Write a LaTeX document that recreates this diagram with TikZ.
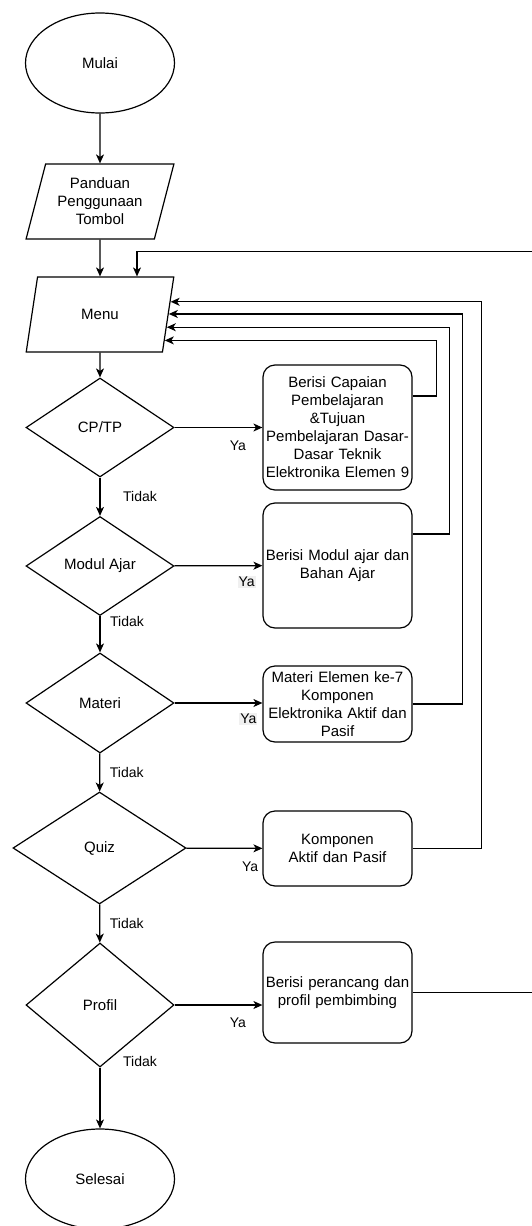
\documentclass[tikz,border=0pt]{standalone}
\usepackage{fontspec}
\setmainfont{Liberation Sans}
\usetikzlibrary{arrows.meta,positioning,shapes.geometric,calc}
\tikzset{
  terminal/.style={draw, ellipse, minimum width=149pt, minimum height=100pt, inner sep=0pt, align=center, font=\fontsize{15}{18}\selectfont},
  io/.style={draw, trapezium, trapezium left angle=72, trapezium right angle=108, trapezium stretches=true, minimum width=148pt, minimum height=75pt, inner sep=0pt, align=center, font=\fontsize{15}{18}\selectfont},
  decision/.style={draw, diamond, minimum width=148pt, minimum height=99pt, inner sep=0pt, align=center, font=\fontsize{15}{18}\selectfont},
  act/.style={draw, rounded corners=12pt, text width=145pt, inner xsep=2pt, inner ysep=0pt, align=center, font=\fontsize{15}{18}\selectfont},
  lbl/.style={font=\fontsize{14}{16}\selectfont, inner sep=1pt},
  lblbg/.style={lbl, fill=gray!12},
  arrow/.style={-{Stealth[length=9pt,width=8pt,inset=2.5pt]}, line width=1.2pt}
}
\begin{document}
\begin{tikzpicture}[x=1pt, y=-1pt, line width=1.2pt]
  \useasboundingbox (0,0) rectangle (531,1226);
  \node[terminal] (mulai) at (100,63) {Mulai};
  \node[io] (panduan) at (100,201.5) {Panduan\\Penggunaan\\Tombol};
  \node[io] (menu) at (100,314.5) {Menu};
  \node[decision] (cptp) at (100,427.5) {CP/TP};
  \node[act, minimum height=125pt] (cpbox) at (337.5,427.5) {Berisi Capaian\\Pembelajaran\\\&Tujuan\\Pembelajaran Dasar-\\Dasar Teknik\\Elektronika Elemen 9};
  \node[decision] (modul) at (100,566) {Modul Ajar};
  \node[act, minimum height=125pt] (modulbox) at (337.5,565.5) {Berisi Modul ajar dan\\Bahan Ajar};
  \node[decision, minimum height=100pt] (materi) at (100,703) {Materi};
  \node[act, minimum height=76pt] (materibox) at (337.5,704) {Materi Elemen ke-7\\Komponen\\Elektronika Aktif dan\\Pasif};
  \node[decision, minimum width=173pt, minimum height=112pt] (quiz) at (99.5,848) {Quiz};
  \node[act, minimum height=75pt] (quizbox) at (337.5,848.5) {Komponen\\Aktif dan Pasif};
  \node[decision, minimum height=124pt] (profil) at (100,1005) {Profil};
  \node[act, minimum height=101pt] (profilbox) at (337.5,992.5) {Berisi perancang dan\\profil pembimbing};
  \node[terminal] (selesai) at (100,1179) {Selesai};
  \draw[arrow] (mulai) -- (panduan);
  \draw[arrow] (panduan) -- (menu);
  \draw[arrow] (menu) -- (cptp);
  \draw[arrow] (cptp) -- node[lbl, pos=.72, yshift=-18pt] {Ya} (cpbox);
  \draw[arrow] (cptp) -- node[lbl, pos=.49, xshift=40pt] {Tidak} (modul);
  \draw[arrow] (modul) -- node[lblbg, pos=.82, yshift=-16pt] {Ya} (modulbox);
  \draw[arrow] (modul) -- node[lbl, pos=.14, xshift=27pt] {Tidak} (materi);
  \draw[arrow] (materi.east) -- node[lblbg, pos=.84, yshift=-16pt] {Ya} (materi.east -| materibox.west);
  \draw[arrow] (materi) -- node[lbl, pos=.49, xshift=27pt] {Tidak} (quiz);
  \draw[arrow] (quiz) -- node[lbl, pos=.84, yshift=-18pt] {Ya} (quizbox);
  \draw[arrow] (quiz) -- node[lbl, pos=.49, xshift=27pt] {Tidak} (profil);
  \draw[arrow] (profil.east) -- node[lbl, pos=.72, yshift=-18pt] {Ya} (profil.east -| profilbox.west);
  \draw[arrow] (profil) -- node[lbl, pos=0, xshift=40pt, yshift=6pt] {Tidak} (selesai);
  \draw[arrow] ($(cpbox.north east)!.25!(cpbox.south east)$) -- ++(24,0) |- ($(menu.top right corner)!.84!(menu.bottom right corner)$);
  \draw[arrow] ($(modulbox.north east)!.25!(modulbox.south east)$) -- ++(37,0) |- ($(menu.top right corner)!.667!(menu.bottom right corner)$);
  \draw[arrow] (materibox.east) -- ++(50,0) |- ($(menu.top right corner)!.493!(menu.bottom right corner)$);
  \draw[arrow] (quizbox.east) -- ++(69,0) |- ($(menu.top right corner)!.333!(menu.bottom right corner)$);
  \draw[arrow] (profilbox.east) -- ++(120,0) |- ($(menu.north)+(37,-25)$) -- ($(menu.north)+(37,0)$);
\end{tikzpicture}
\end{document}
